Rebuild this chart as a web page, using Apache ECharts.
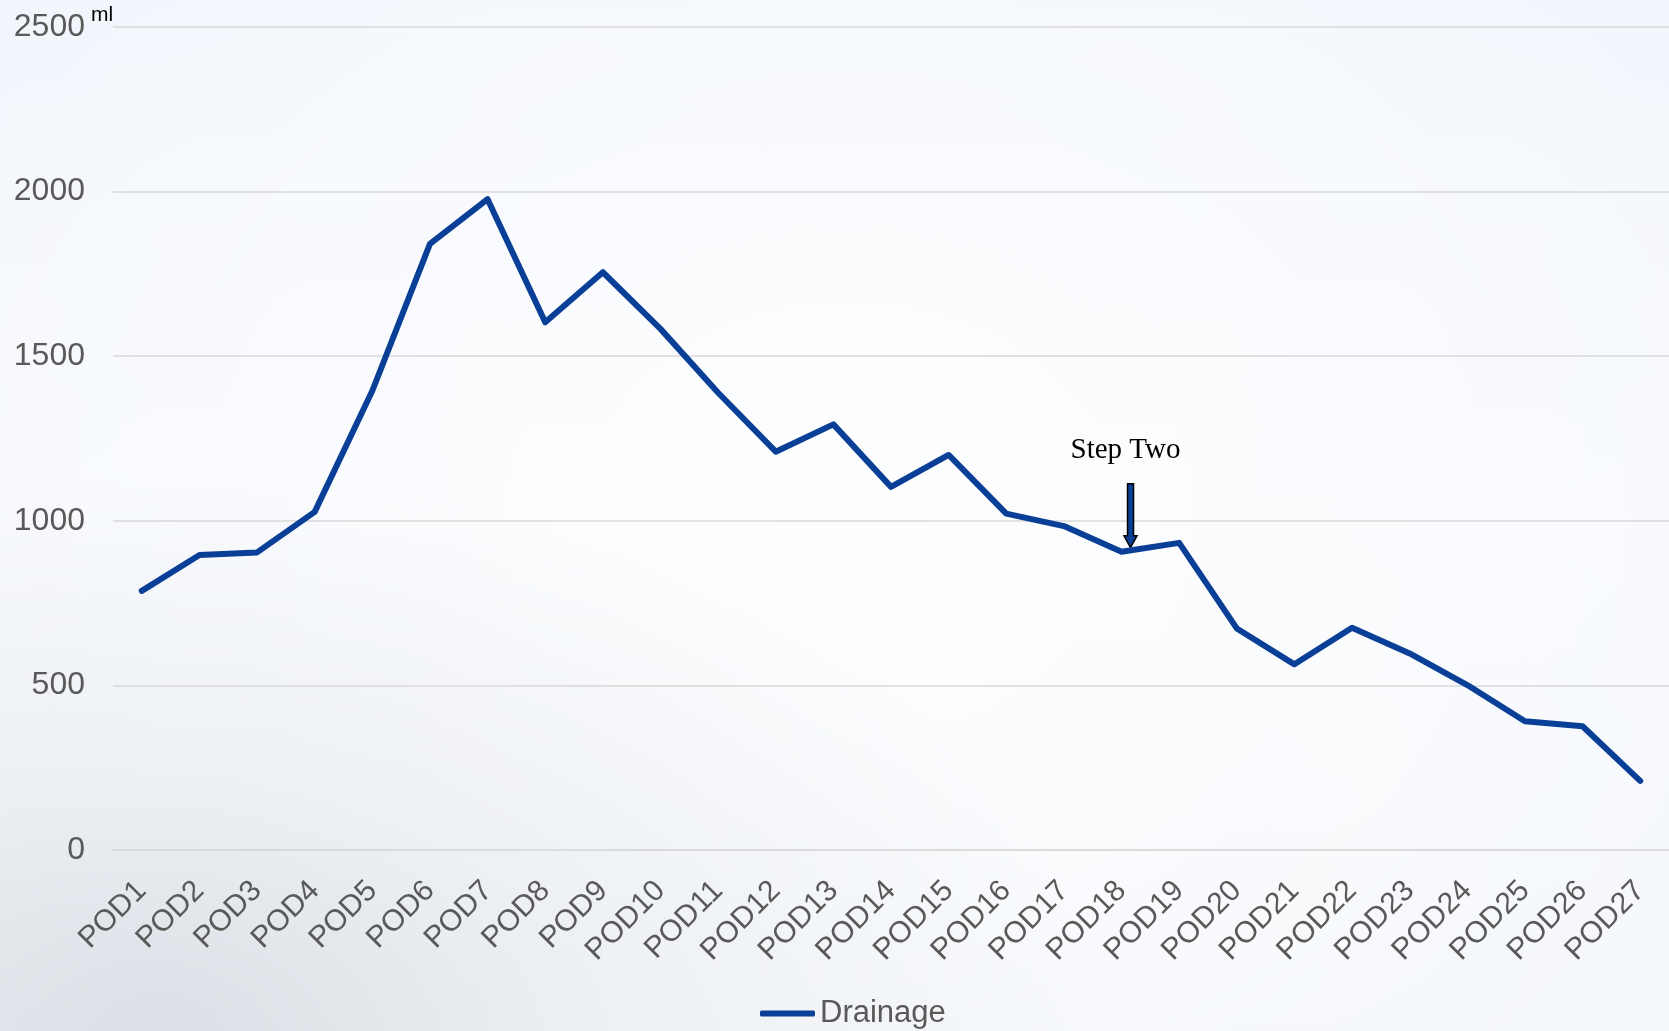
<!DOCTYPE html>
<html>
<head>
<meta charset="utf-8">
<script src="https://cdn.jsdelivr.net/npm/echarts@6/dist/echarts.min.js"></script>
<style>
html,body{margin:0;padding:0;width:1669px;height:1031px;overflow:hidden;}
body{
  background:
    radial-gradient(ellipse 950px 560px at 160px 1031px, rgba(198,204,212,0.55) 0%, rgba(216,221,228,0.35) 45%, rgba(240,244,250,0) 100%),
    radial-gradient(ellipse 1100px 900px at 850px 520px, rgba(255,255,255,0.85) 0%, rgba(255,255,255,0) 100%),
    linear-gradient(180deg, #f1f5fc 0%, #f7f9fd 50%, #f3f6fa 100%);
}
#chart{width:1669px;height:1031px;}
</style>
</head>
<body>
<div id="chart"></div>
<script>
const categories = ['POD1','POD2','POD3','POD4','POD5','POD6','POD7','POD8','POD9','POD10',
  'POD11','POD12','POD13','POD14','POD15','POD16','POD17','POD18','POD19','POD20',
  'POD21','POD22','POD23','POD24','POD25','POD26','POD27'];
const drainage = [787, 896, 904, 1027, 1395, 1841, 1977, 1603, 1755, 1583,
  1389, 1210, 1293, 1103, 1200, 1022, 984, 906, 933, 673,
  564, 675, 597, 501, 391, 376, 210];
const yTicks = [0, 500, 1000, 1500, 2000, 2500];
const annotationLabel = 'Step Two';
const annotationCategory = 'POD18';
const unitLabel = 'ml';

const lineColor = '#0a3f98';
const chart = echarts.init(document.getElementById('chart'), null, {renderer: 'canvas'});

const option = {
  backgroundColor: 'transparent',
  animation: false,
  textStyle: {fontFamily: 'Liberation Sans, Arial, sans-serif'},
  grid: {left: 113, width: 1562, top: 27, bottom: 181, containLabel: false},
  legend: {
    data: ['Drainage'],
    left: 760, top: 998, padding: 0,
    icon: 'roundRect', itemWidth: 55, itemHeight: 6, itemGap: 10,
    textStyle: {fontSize: 31, color: '#595959', fontFamily: 'Liberation Sans, Arial, sans-serif', padding: [0,0,0,0]}
  },
  xAxis: {
    type: 'category',
    data: categories,
    boundaryGap: true,
    axisLine: {show: true, lineStyle: {color: '#d9d9d9', width: 1.5}},
    axisTick: {show: false},
    axisLabel: {rotate: 45, interval: 0, fontSize: 30, color: '#595959', margin: 36,
      fontFamily: 'Liberation Sans, Arial, sans-serif'}
  },
  yAxis: {
    type: 'value',
    min: yTicks[0], max: yTicks[yTicks.length-1], interval: yTicks[1]-yTicks[0],
    axisLine: {show: false},
    axisTick: {show: false},
    splitLine: {lineStyle: {color: '#d9d9d9', width: 1.5}},
    axisLabel: {fontSize: 32, color: '#595959', margin: 28,
      formatter: function (v) { return String(v); },
      fontFamily: 'Liberation Sans, Arial, sans-serif'}
  },
  series: [{
    name: 'Drainage',
    type: 'line',
    data: drainage,
    symbol: 'none',
    lineStyle: {color: lineColor, width: 6, cap: 'round', join: 'round'},
    itemStyle: {color: lineColor}
  }]
};
chart.setOption(option);

// annotation positioned from data through the chart's scales
const idx = categories.indexOf(annotationCategory);
const p = chart.convertToPixel({seriesIndex: 0}, [idx, drainage[idx]]);
const ax = p[0] + 9;
const tipY = p[1] - 4;
const topY = tipY - 64;
const headH = 12, sw = 3, hw = 6.5;
const top0 = chart.convertToPixel({yAxisIndex: 0}, yTicks[yTicks.length-1]);
chart.setOption({
  graphic: [
    {
      type: 'text',
      left: 91, top: top0 - 22,
      style: {text: unitLabel, fontSize: 21, fill: '#000', fontFamily: 'Liberation Sans, Arial, sans-serif'}
    },
    {
      type: 'text',
      x: ax - 5, y: topY - 19,
      style: {text: annotationLabel, fontSize: 29, fill: '#000', fontFamily: 'Liberation Serif, Times New Roman, serif',
        align: 'center', verticalAlign: 'bottom'}
    },
    {
      type: 'polygon',
      shape: {points: [
        [ax - sw, topY], [ax + sw, topY], [ax + sw, tipY - headH], [ax + hw, tipY - headH],
        [ax, tipY], [ax - hw, tipY - headH], [ax - sw, tipY - headH]
      ]},
      style: {fill: lineColor, stroke: '#000', lineWidth: 1.5}
    }
  ]
});
</script>
</body>
</html>
